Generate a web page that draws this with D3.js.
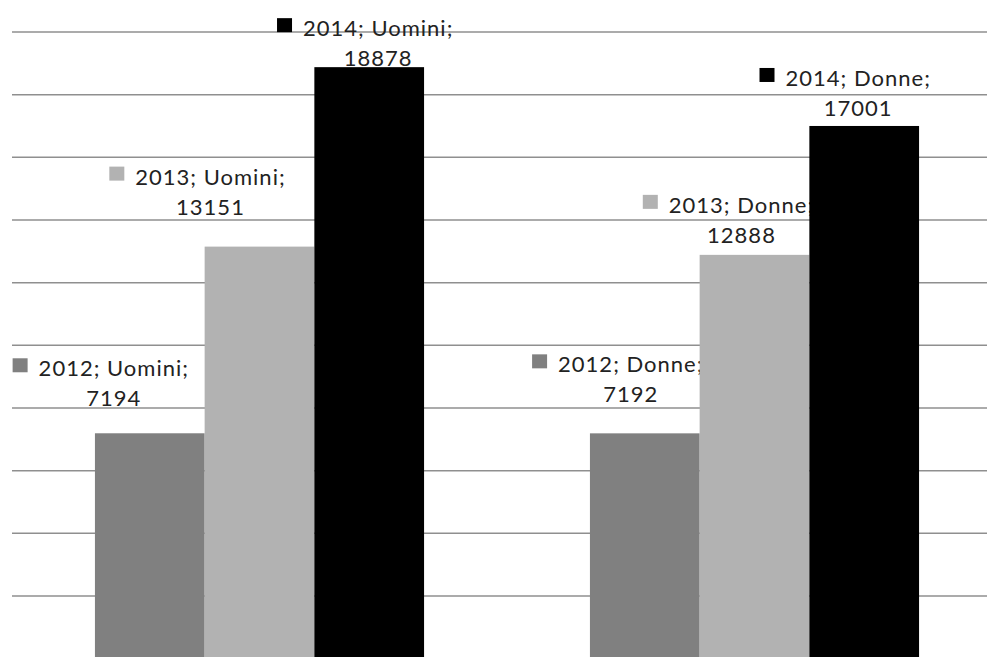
<!DOCTYPE html>
<html>
<head>
<meta charset="utf-8">
<script src="https://cdn.jsdelivr.net/npm/d3@7"></script>
<style>
  body { margin: 0; background: #fff; }
  svg { display: block; }
  text { font-family: Lato, "Open Sans", sans-serif; font-size: 22px; fill: #222; letter-spacing: 1px; }
</style>
</head>
<body>
<div id="chart"></div>
<script>
// data
var categories = ["Uomini", "Donne"];
var years = ["2012", "2013", "2014"];
var values2012 = [7194, 7192];
var values2013 = [13151, 12888];
var values2014 = [18878, 17001];
var gridTicks = [2000, 4000, 6000, 8000, 10000, 12000, 14000, 16000, 18000, 20000];

// label nudges (layout only): [dx from bar centre, gap above bar]
var labelNudge = {
  "2012": [[-36, 27], [-14, 31]],
  "2013": [[-49, 32], [-13, 12]],
  "2014": [[9, 1], [-6, 10]]
};

var colors = {"2012": "#808080", "2013": "#b2b2b2", "2014": "#000000"};

var width = 987, height = 657;

var svg = d3.select("#chart")
  .append("svg")
    .attr("width", width)
    .attr("height", height);

var series = years.map(function(yr, i) {
  var vals = [values2012, values2013, values2014][i];
  return {year: yr, values: categories.map(function(c, j) {
    return {cat: c, value: vals[j], nudge: labelNudge[yr][j]};
  })};
});

var x0 = d3.scaleBand()
  .domain(categories)
  .range([12, 1002]);

var x1 = d3.scaleBand()
  .domain(years)
  .range([0, x0.bandwidth()])
  .paddingOuter(0.756);

var y = d3.scaleLinear()
  .domain([0, 20000])
  .range([658.7, 32]);

// gridlines
svg.append("g")
  .attr("class", "grid")
  .selectAll("line")
  .data(gridTicks)
  .enter()
  .append("line")
    .attr("x1", 12)
    .attr("x2", width)
    .attr("y1", function(d) { return y(d); })
    .attr("y2", function(d) { return y(d); })
    .attr("stroke", "#8f8f8f")
    .attr("stroke-width", 1.5);

// one layer per series: bars then labels (later bars cover earlier labels)
series.forEach(function(s) {
  var g = svg.append("g").attr("class", "series s" + s.year);

  g.selectAll("rect")
    .data(s.values)
    .enter()
    .append("rect")
      .attr("x", function(d) { return x0(d.cat) + x1(s.year); })
      .attr("y", function(d) { return y(d.value); })
      .attr("width", x1.bandwidth())
      .attr("height", function(d) { return y(0) - y(d.value); })
      .attr("fill", colors[s.year]);

  var lab = g.selectAll(".label")
    .data(s.values)
    .enter()
    .append("g")
      .attr("class", "label")
      .attr("transform", function(d) {
        var cx = x0(d.cat) + x1(s.year) + x1.bandwidth() / 2 + d.nudge[0];
        var base = y(d.value) - d.nudge[1];
        return "translate(" + cx + "," + base + ")";
      });

  lab.append("text")
    .attr("text-anchor", "middle")
    .attr("y", 0)
    .text(function(d) { return d.value; });

  var line1 = lab.append("text")
    .attr("text-anchor", "middle")
    .attr("y", -30)
    .text(function(d) { return s.year + "; " + d.cat + ";"; });

  lab.each(function() {
    var t = d3.select(this).select("text:nth-of-type(2)").node();
    var w = t.getComputedTextLength();
    d3.select(this).append("rect")
      .attr("x", -w / 2 - 11 - 15)
      .attr("y", -30 - 18)
      .attr("width", 15)
      .attr("height", 14)
      .attr("fill", colors[s.year]);
  });
});
</script>
</body>
</html>
